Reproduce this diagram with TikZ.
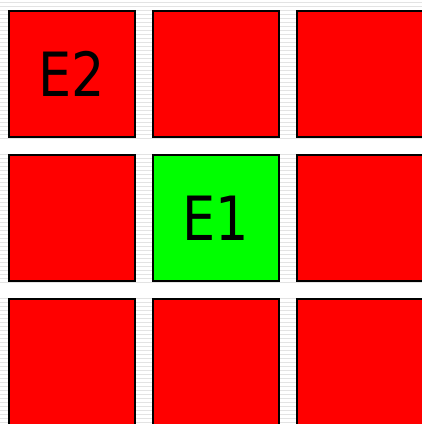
\documentclass[tikz,border=0pt]{standalone}
\usepackage{fontspec}
\usepackage{graphicx}
\newfontfamily\cellfont{DejaVu Sans}
\newcommand{\celltext}[1]{\scalebox{0.86}[1]{\cellfont\fontsize{61}{61}\selectfont #1}}

\begin{document}
\begin{tikzpicture}[
	x=1pt, y=-1pt,
	cell/.style={ rectangle, draw=black, line width=1.6pt, fill=red, inner sep=0pt, minimum size=126.5pt },
	cellg/.style={ cell, fill=green },
	stripe/.style={ gray!22, line width=1pt }
]

\useasboundingbox (0,0) rectangle (422,424);
\fill[white] (0,0) rectangle (422,424);
\foreach \y in {2,6,...,422}
  \draw[stripe] (0,\y) -- (422,\y);
% plain bands between the rows
\fill[white] (0,140) rectangle (422,152);
\fill[white] (0,284) rectangle (422,296);

\node[cell] at (72,74) (c11) {\celltext{E2}};
\node[cell] at (216,74) (c12) {};
\node[cell] at (360,74) (c13) {};
\node[cell] at (72,218) (c21) {};
\node[cellg] at (216,218) (c22) {\celltext{E1}};
\node[cell] at (360,218) (c23) {};
\node[cell] at (72,362) (c31) {};
\node[cell] at (216,362) (c32) {};
\node[cell] at (360,362) (c33) {};

\end{tikzpicture}
\end{document}
